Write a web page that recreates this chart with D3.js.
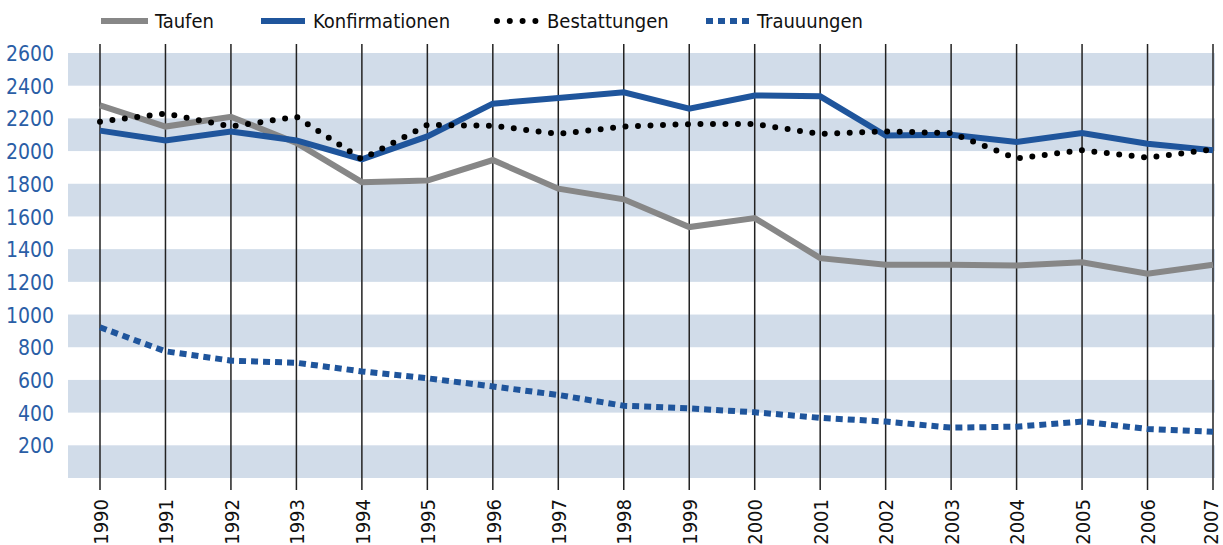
<!DOCTYPE html>
<html>
<head>
<meta charset="utf-8">
<script src="https://cdn.jsdelivr.net/npm/d3@7"></script>
<style>
  body { margin: 0; background: #fff; }
  svg text { font-family: "DejaVu Sans Condensed", "Liberation Sans Narrow", "Open Sans", sans-serif; }
</style>
</head>
<body>
<div id="chart"></div>
<script>

// data
let years = ["1990", "1991", "1992", "1993", "1994", "1995", "1996", "1997", "1998",
	"1999", "2000", "2001", "2002", "2003", "2004", "2005", "2006", "2007"];

let taufen = [2280, 2150, 2210, 2050, 1810, 1820, 1945, 1770, 1705,
	1535, 1590, 1345, 1305, 1305, 1300, 1320, 1250, 1305];

let konfirmationen = [2125, 2065, 2120, 2065, 1950, 2090, 2290, 2325, 2360,
	2260, 2340, 2335, 2095, 2100, 2055, 2110, 2045, 2005];

let bestattungen = [2180, 2230, 2150, 2210, 1950, 2160, 2155, 2105, 2150,
	2165, 2165, 2105, 2120, 2110, 1955, 2005, 1960, 2010];

let trauungen = [922, 775, 718, 705, 652, 610, 560, 508, 442,
	426, 402, 368, 345, 308, 314, 345, 300, 283];

let yTicks = [200, 400, 600, 800, 1000, 1200, 1400, 1600, 1800, 2000, 2200, 2400, 2600];

let seriesNames = ["Taufen", "Konfirmationen", "Bestattungen", "Trauuungen"];

let width = 1223,
	height = 545;

let blue = "#1f559c",
	gray = "#878787",
	band = "#d1dce9";

let svg = d3.select("#chart")
	.append("svg")
	.attr("width", width)
	.attr("height", height);

// scales
let x = d3.scalePoint()
	.domain(years)
	.range([100, 1213]);

let y = d3.scaleLinear()
	.domain([0, 2600])
	.range([478, 53]);

// horizontal bands, every other 200 step
let bands = d3.range(0, 2600, 400);
svg.selectAll(".band")
	.data(bands)
	.enter()
	.append("rect")
	.attr("class", "band")
	.attr("x", 68)
	.attr("width", 1215 - 68)
	.attr("y", function (d) { return y(d + 200); })
	.attr("height", function (d) { return y(d) - y(d + 200); })
	.attr("fill", band);

// vertical year lines
svg.selectAll(".vline")
	.data(years)
	.enter()
	.append("line")
	.attr("class", "vline")
	.attr("x1", function (d) { return x(d); })
	.attr("x2", function (d) { return x(d); })
	.attr("y1", 44)
	.attr("y2", 490)
	.attr("stroke", "#222")
	.attr("stroke-width", 1.5);

// y axis labels
let yAxis = d3.axisLeft(y).tickValues(yTicks).tickFormat(d3.format("d")).tickSize(0).tickPadding(0);
let yg = svg.append("g")
	.attr("transform", "translate(54,0)")
	.call(yAxis);
yg.select(".domain").remove();
yg.selectAll("text")
	.attr("fill", "#2a5ea6")
	.style("font-size", "21px")
	.attr("dy", "0.36em");

// x axis labels, rotated
let xAxis = d3.axisBottom(x).tickSize(0).tickPadding(0);
let xg = svg.append("g")
	.attr("transform", "translate(0,499)")
	.call(xAxis);
xg.select(".domain").remove();
xg.selectAll("text")
	.attr("fill", "#111")
	.style("font-size", "20px")
	.attr("transform", "rotate(-90)")
	.attr("text-anchor", "end")
	.attr("x", 0)
	.attr("y", function (d, i) { return i == years.length - 1 ? -3 : 0; })
	.attr("dy", "0.36em");

let line = d3.line()
	.x(function (d, i) { return x(years[i]); })
	.y(function (d) { return y(d); });

function drawSeries(values, color, dash, cap) {
	svg.append("path")
		.datum(values)
		.attr("d", line)
		.attr("fill", "none")
		.attr("stroke", color)
		.attr("stroke-width", 6)
		.attr("stroke-linejoin", "miter")
		.attr("stroke-linecap", cap)
		.attr("stroke-dasharray", dash);
}

drawSeries(taufen, gray, null, "butt");
drawSeries(konfirmationen, blue, null, "butt");
drawSeries(bestattungen, "#000", "0,12.5", "round");
drawSeries(trauungen, blue, "7,5", "butt");

// legend
let legend = [
	{ name: seriesNames[0], x1: 101, x2: 148, tx: 155, color: gray, dash: null, cap: "butt" },
	{ name: seriesNames[1], x1: 261, x2: 305, tx: 313, color: blue, dash: null, cap: "butt" },
	{ name: seriesNames[2], x1: 497, x2: 536, tx: 547, color: "#000", dash: "0,12.8", cap: "round" },
	{ name: seriesNames[3], x1: 706, x2: 753, tx: 757, color: blue, dash: "7,5", cap: "butt" }
];

let lg = svg.selectAll(".legend")
	.data(legend)
	.enter()
	.append("g")
	.attr("class", "legend");

lg.append("line")
	.attr("x1", function (d) { return d.x1; })
	.attr("x2", function (d) { return d.x2; })
	.attr("y1", 21)
	.attr("y2", 21)
	.attr("stroke", function (d) { return d.color; })
	.attr("stroke-width", 6)
	.attr("stroke-linecap", function (d) { return d.cap; })
	.attr("stroke-dasharray", function (d) { return d.dash; });

lg.append("text")
	.attr("x", function (d) { return d.tx; })
	.attr("y", 28)
	.style("font-size", "20px")
	.attr("fill", "#111")
	.text(function (d) { return d.name; });

</script>
</body>
</html>
